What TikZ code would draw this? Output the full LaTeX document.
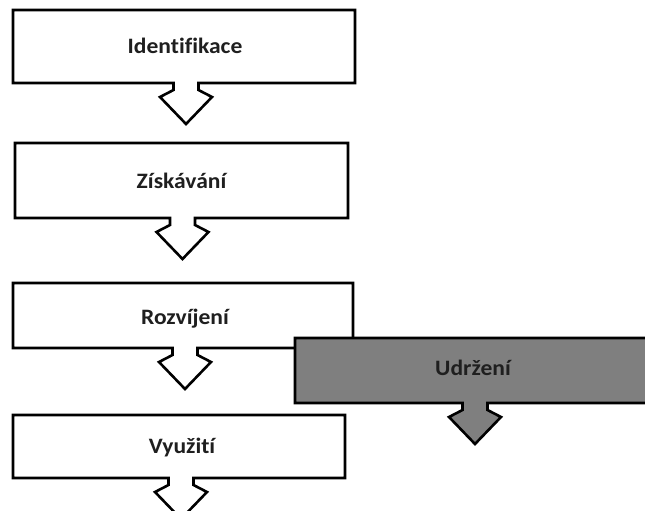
\documentclass[tikz,border=0pt]{standalone}
\usepackage{fontspec}
\setmainfont{Carlito}[Ligatures=NoCommon]
\usepackage{xcolor}
\definecolor{stagegray}{HTML}{7F7F7F}

% box with a down arrow under it: left, right, top, bottom, arrow x
\newcommand\stageshape[6][white]{%
  \draw[stageline,fill=#1] (#2,#4) -- (#3,#4) -- (#3,#5)
    -- (#6+12.5,#5) -- (#6+12.5,#5+7) -- (#6+26,#5+14) -- (#6,#5+41)
    -- (#6-26,#5+14) -- (#6-12.5,#5+7) -- (#6-12.5,#5) -- (#2,#5) -- cycle;}

\tikzset{
  stageline/.style={line width=2.6pt, line join=miter, draw=black},
  stagetext/.style={font=\bfseries\fontsize{22}{25}\selectfont, text=black!88,
    inner sep=0pt, anchor=base, xscale=1.07}
}

\begin{document}
\begin{tikzpicture}[x=1pt,y=-1pt]
\useasboundingbox (0,0) rectangle (645,511);
\clip (0,0) rectangle (645,511);

\stageshape{13}{355}{10}{83}{186}
\node[stagetext] (ident) at (185,53) {Identifikace};

\stageshape{15}{348}{143}{218}{182.5}
\node[stagetext] (ziskav) at (181.5,188) {Získávání};

\stageshape{13}{353}{283}{348}{185}
\node[stagetext] (rozvoj) at (185,324) {Rozvíjení};

\stageshape[stagegray]{295}{660}{338}{403}{475}
\node[stagetext] (udrz) at (473,375) {Udržení};

\stageshape{13}{345}{415}{478}{181}
\node[stagetext] (vyuz) at (182,453) {Využití};

\end{tikzpicture}
\end{document}
